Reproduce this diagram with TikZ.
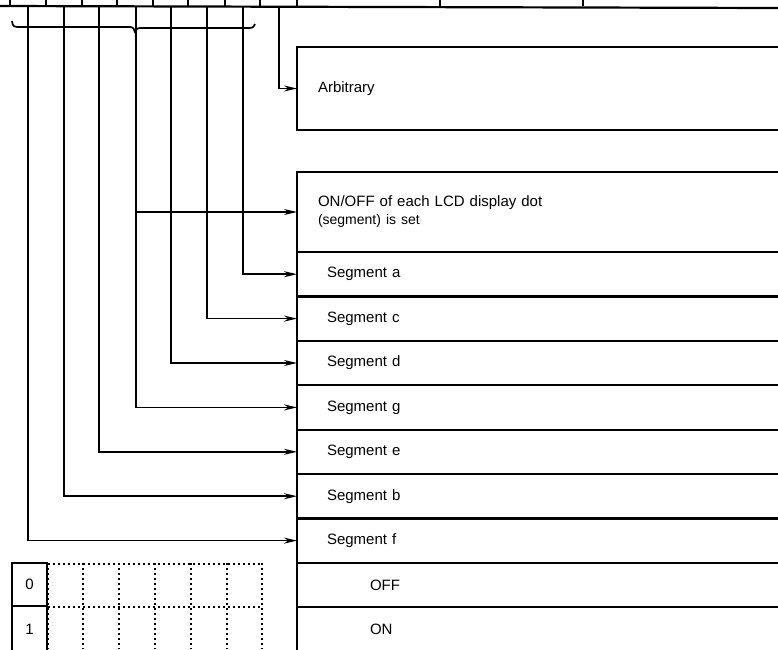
\documentclass[tikz,border=0pt]{standalone}
\usepackage{fontspec}
\setmainfont{Liberation Sans}
\usetikzlibrary{arrows.meta, positioning}

\begin{document}
\begin{tikzpicture}[
  x=1pt, y=-1pt,
  node distance=0pt,
  row/.style={rectangle, anchor=north west, minimum width=481pt, minimum height=44.4pt, inner xsep=30pt, outer sep=0pt, text width=421pt, align=left, font=\fontsize{15}{18}\selectfont},
  headrow/.style={row, inner xsep=21pt, text width=439pt},
  staterow/.style={row, inner xsep=73pt, text width=335pt},
  bitbox/.style={rectangle, draw, line width=2.2pt, anchor=north west, minimum width=35pt, minimum height=43pt, outer sep=0pt, font=\fontsize{15}{18}\selectfont},
  frame/.style={line width=2.2pt},
  sig/.style={line width=1.7pt},
  arrow/.style={-{Stealth[length=13pt, width=6pt]}, line width=1.7pt},
  dotgrid/.style={line width=1.4pt, dash pattern=on 2pt off 3pt},
]
  \useasboundingbox (0,0) rectangle (778,649);

  % register bits on top
  \draw[frame] (0,6) -- (778,8);
  \foreach \x in {10,46,82,117,153,188,225,260,297,440,583}
    \draw[sig] (\x,0) -- (\x,6);
  \foreach \b/\x in {0/28,1/64,2/99,3/136,4/171,5/207,6/243,7/279}
    \coordinate (bit\b) at (\x,7);

  % brace over bits 0-6
  \draw[sig] (12,21) .. controls (13,27) .. (22,27) -- (127,27) .. controls (133,27) .. (135,32)
    .. controls (137,28) .. (144,28) -- (246,28) .. controls (253,28) .. (255,24);

  % description column
  \node[headrow, minimum height=83pt] (arb) at (297,47) {Arbitrary};
  \node[headrow, minimum height=80pt] (dot) at (297,172)
    {ON/OFF of each LCD display dot\\{\fontsize{14}{16}\selectfont (segment) is set}};
  \node[row, below=of dot] (sega) {Segment a};
  \node[row, below=of sega] (segc) {Segment c};
  \node[row, below=of segc] (segd) {Segment d};
  \node[row, below=of segd] (segg) {Segment g};
  \node[row, below=of segg] (sege) {Segment e};
  \node[row, below=of sege] (segb) {Segment b};
  \node[row, below=of segb] (segf) {Segment f};
  \node[staterow, below=of segf] (off) {OFF};
  \node[staterow, below=of off] (on) {ON};

  \draw[frame] (arb.north east) -- (arb.north west) -- (arb.south west) -- (arb.south east);
  \draw[frame] (dot.north east) -- (dot.north west) -- (on.south west);
  \foreach \r in {dot,sega,segc,segd,segg,sege,segb,segf,off}
    \draw[frame] (\r.south west) -- (\r.south east);

  % bit lines
  \draw[arrow] (bit7) |- (arb.west);
  \draw[arrow] (bit6) |- (sega.west);
  \draw[arrow] (bit5) |- (segc.west);
  \draw[arrow] (bit4) |- (segd.west);
  \draw[arrow] (bit3) |- (segg.west);
  \draw[arrow] (bit2) |- (sege.west);
  \draw[arrow] (bit1) |- (segb.west);
  \draw[arrow] (bit0) |- (segf.west);
  \draw[arrow] (bit3 |- dot.west) -- (dot.west);

  % bit value table
  \node[bitbox] (zero) at (12,563) {0};
  \node[bitbox, below=of zero, minimum height=46pt] (one) {1};
  \foreach \x in {48,83,119,155,191,227,262}
    \draw[dotgrid] (\x,563) -- (\x,649);
  \foreach \y in {564,607}
    \draw[dotgrid] (48,\y) -- (262,\y);
\end{tikzpicture}
\end{document}
